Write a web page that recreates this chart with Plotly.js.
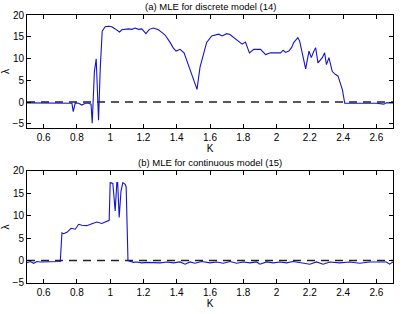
<!DOCTYPE html>
<html><head><meta charset="utf-8">
<script src="https://cdn.plot.ly/plotly-3.0.1.min.js"></script>
<style>html,body{margin:0;padding:0;background:#fff}#c{width:409px;height:314px}</style>
</head><body><div id="c"></div>
<script>
const titleA = "(a) MLE for discrete model (14)";
const titleB = "(b) MLE for continuous model (15)";
const xTickVals = [0.6,0.8,1,1.2,1.4,1.6,1.8,2,2.2,2.4,2.6];
const yTickVals = [-5,0,5,10,15,20];
const zeroK = [0.5, 2.7];
const zeroL = [0, 0];

const Ka = [0.5,0.55,0.6,0.65,0.7,0.75,0.77,0.778,0.79,0.81,
0.83,0.85,0.87,0.885,0.892,0.905,0.916,0.93,0.94,0.952,
0.97,0.99,1.01,1.03,1.056,1.07,1.09,1.11,1.13,1.15,
1.17,1.19,1.215,1.235,1.26,1.29,1.31,1.33,1.36,1.38,
1.396,1.42,1.444,1.47,1.49,1.51,1.522,1.54,1.566,1.58,
1.61,1.63,1.652,1.673,1.70,1.72,1.743,1.76,1.773,1.793,
1.813,1.837,1.863,1.885,1.904,1.934,1.964,1.99,2.024,2.04,
2.054,2.074,2.09,2.104,2.128,2.139,2.155,2.175,2.195,2.209,
2.222,2.235,2.249,2.262,2.275,2.289,2.30,2.315,2.335,2.355,
2.369,2.386,2.396,2.41,2.45,2.5,2.55,2.6,2.645,2.66,2.7];
const La = [-0.2,-0.2,-0.3,-0.2,-0.2,-0.2,-0.3,-2.2,-0.2,-0.3,
-0.7,-0.3,-0.3,-0.5,-4.9,7.0,9.9,-4.2,7.5,16.3,
17.3,17.4,17.3,16.8,16.1,16.6,16.7,16.8,16.7,17.0,
16.7,16.8,15.7,16.7,17.0,16.6,16.0,15.4,13.7,12.4,
11.7,12.1,11.3,8.5,6.0,4.0,2.9,8.0,11.7,13.7,
15.2,15.4,15.6,15.2,15.7,15.5,14.8,14.2,13.7,13.3,
13.8,11.3,12.1,12.1,12.1,10.9,11.3,11.3,11.3,11.9,
11.4,11.7,12.5,13.7,14.8,14.0,11.3,7.6,11.7,10.2,
11.5,12.5,9.0,9.5,10.2,11.3,8.6,10.2,7.0,6.3,
6.0,4.0,2.8,-0.3,-0.3,-0.3,-0.2,-0.3,-0.5,-0.2,-0.2];

const Kb = [0.5,0.52,0.54,0.56,0.58,0.6,0.62,0.65,0.68,0.70,
0.71,0.72,0.74,0.765,0.79,0.81,0.83,0.86,0.89,0.92,
0.95,0.98,0.994,1.0,1.016,1.03,1.04,1.045,1.054,1.065,
1.076,1.09,1.096,1.107,1.12,1.14,1.16,1.19,1.22,1.26,
1.3,1.34,1.38,1.42,1.45,1.48,1.51,1.55,1.6,1.64,
1.68,1.72,1.76,1.8,1.84,1.88,1.9,1.94,1.98,2.02,
2.06,2.1,2.14,2.2,2.24,2.28,2.32,2.38,2.44,2.5,
2.56,2.62,2.66,2.68,2.7];
const Lb = [-0.5,-0.2,-0.6,-0.2,-0.3,-0.3,-0.2,-0.2,-0.2,-0.2,
6.2,6.0,6.3,7.2,7.0,8.1,7.9,7.8,8.2,8.6,
8.3,8.8,9.0,17.4,17.2,11.1,17.4,17.4,9.6,15.5,
17.4,17.0,16.5,0.0,-0.2,-0.4,-0.3,-0.5,-0.4,-0.4,
-0.5,-0.3,-0.5,-0.3,-0.8,-0.3,-0.6,-0.2,-0.5,-0.3,
-0.6,-0.2,-0.6,-0.3,-0.5,-0.3,-0.8,-0.3,-0.5,-0.3,
-0.5,-0.2,-0.4,-0.8,-0.3,-0.8,-0.3,-0.5,-0.3,-0.6,
-0.3,-0.3,-0.3,-0.8,-0.3];

const blue = "#1414d2";
const dashLine = {color:"#222", width:1.5, dash:"8px,6px"};
const traces = [
  {x:zeroK, y:zeroL, xaxis:"x", yaxis:"y", mode:"lines", line:dashLine, hoverinfo:"skip"},
  {x:Ka, y:La, xaxis:"x", yaxis:"y", mode:"lines", line:{color:blue, width:1.1}},
  {x:zeroK, y:zeroL, xaxis:"x2", yaxis:"y2", mode:"lines", line:dashLine, hoverinfo:"skip"},
  {x:Kb, y:Lb, xaxis:"x2", yaxis:"y2", mode:"lines", line:{color:blue, width:1.1}}
];
const font = {family:"Liberation Sans, Arial, sans-serif", size:10, color:"#000"};
const tfont = {family:"Liberation Sans, Arial, sans-serif", size:9.5, color:"#000"};
function xa(anchor){
  return {anchor:anchor, range:[0.5,2.7], tickvals:xTickVals, ticks:"inside", ticklen:4,
    tickcolor:"#000", showline:true, linecolor:"#000", linewidth:1, mirror:"ticks",
    showgrid:false, zeroline:false, tickfont:font,
    title:{text:"K", font:font, standoff:0}};
}
function ya(anchor, dom, rng){
  return {anchor:anchor, domain:dom, range:rng, tickvals:yTickVals, ticks:"inside", ticklen:4,
    tickcolor:"#000", showline:true, linecolor:"#000", linewidth:1, mirror:"ticks",
    showgrid:false, zeroline:false, tickfont:font,
    title:{text:"λ", font:font, standoff:2}};
}
const layout = {
  width:409, height:314, showlegend:false,
  paper_bgcolor:"#fff", plot_bgcolor:"#fff",
  margin:{l:27, r:16, t:15, b:31},
  font:font,
  xaxis:xa("y"), yaxis:ya("x", [0.578,1], [-6,20]),
  xaxis2:xa("y2"), yaxis2:ya("x2", [0,0.418], [-5,20]),
  annotations:[
    {text:titleA, xref:"paper", yref:"paper", x:0.5, y:1, yshift:1, yanchor:"bottom", showarrow:false, font:tfont},
    {text:titleB, xref:"paper", yref:"paper", x:0.5, y:0.418, yshift:1, yanchor:"bottom", showarrow:false, font:tfont}
  ]
};
Plotly.newPlot("c", traces, layout, {staticPlot:true, displayModeBar:false});
</script></body></html>
